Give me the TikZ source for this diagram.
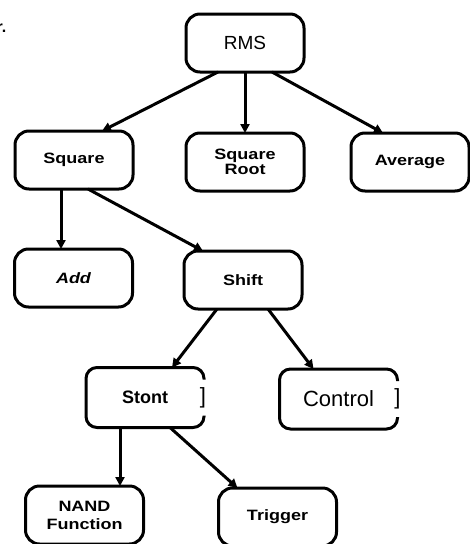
\documentclass[tikz,border=0pt]{standalone}
\usepackage{fontspec}
\setmainfont{Liberation Sans}
\newfontfamily\widefont[FakeStretch=1.2]{Liberation Sans}
\usetikzlibrary{arrows.meta,calc}
\tikzset{
  box/.style={draw, line width=3pt, rounded corners=14pt, minimum width=118pt,
    minimum height=58pt, inner sep=0pt, outer sep=0pt, align=center},
  openbox/.style={minimum width=118pt, minimum height=60pt, inner sep=0pt, outer sep=0pt},
  openline/.style={line width=3pt, rounded corners=11pt},
  lbl/.style={font=\widefont\bfseries\fontsize{15}{14.5}\selectfont},
  arr/.style={line width=3pt, -{Triangle[length=9pt,width=9pt]}},
  brk/.style={font=\fontsize{22}{22}\selectfont, inner sep=0pt}
}
\begin{document}
\begin{tikzpicture}[x=1pt,y=-1pt]
\useasboundingbox (0,0) rectangle (470,544);
\node[anchor=base east, inner sep=0pt, font=\bfseries\fontsize{16}{16}\selectfont] (frag) at (6.5,32) {r.};
\node[box, font=\fontsize{19}{19}\selectfont] (rms) at (245,43) {RMS};
\node[box, lbl] (sq) at (74,160) {Square};
\node[box, lbl] (sqr) at (245,162) {Square\\Root};
\node[box, lbl] (avg) at (410,162) {Average};
\node[box, lbl, font=\widefont\bfseries\itshape\fontsize{15}{15}\selectfont] (add) at (73.5,278) {Add};
\node[box, lbl] (shift) at (243,280) {Shift};
\node[openbox, font=\bfseries\fontsize{18}{18}\selectfont] (st) at (145,397.5) {Stont};
\node[openbox, font=\fontsize{22}{22}\selectfont] (ct) at (338.5,399) {Control};
\node[box, lbl, font=\widefont\bfseries\fontsize{15}{18}\selectfont] (nand) at (84.5,515) {NAND\\Function};
\node[box, lbl] (trig) at (277.5,517) {Trigger};
% open boxes
\draw[openline] ([yshift=18pt]st.east) -- (st.north east) -- (st.north west) -- (st.south west) -- (st.south east) -- ([yshift=-18pt]st.east);
\draw[openline] ([yshift=18pt]ct.east) -- (ct.north east) -- (ct.north west) -- (ct.south west) -- (ct.south east) -- ([yshift=-18pt]ct.east);
\node[brk] (stb) at ([xshift=-1pt]st.east) {]};
\node[brk] (ctb) at ([xshift=0pt]ct.east) {]};
% arrows
\draw[arr] ([xshift=-27pt]rms.south) -- ([xshift=28pt]sq.north);
\draw[arr] (rms.south) -- (sqr.north);
\draw[arr] ([xshift=27pt]rms.south) -- ([xshift=-27pt]avg.north);
\draw[arr] ([xshift=-13pt]sq.south) -- ([xshift=-12.5pt]add.north);
\draw[arr] ([xshift=14pt]sq.south) -- ([xshift=-40pt]shift.north);
\draw[arr] ([xshift=-26pt]shift.south) -- ([xshift=27pt]st.north);
\draw[arr] ([xshift=25pt]shift.south) -- ([xshift=-25pt]ct.north);
\draw[arr] ([xshift=-25pt]st.south) -- ([xshift=35.5pt]nand.north);
\draw[arr] ([xshift=25pt]st.south) -- ([xshift=-40pt]trig.north);
\end{tikzpicture}
\end{document}
